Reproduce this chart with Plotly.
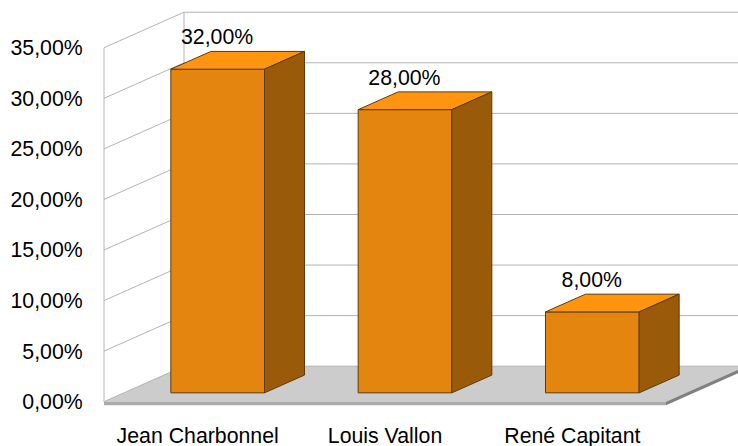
"""
Pseudo 3D bar chart: vote shares per candidate.
"""

import plotly.graph_objects as go

candidates = ["Jean Charbonnel", "Louis Vallon", "René Capitant"]
shares = [32, 28, 8]
y_ticks = [0, 5, 10, 15, 20, 25, 30, 35]
y_tick_labels = ["0,00%", "5,00%", "10,00%", "15,00%", "20,00%", "25,00%", "30,00%", "35,00%"]

# Oblique projection, in axis units (one category = 1, one percent = 1)
DEPTH_X = 80 / 187.33
DEPTH_Y = 35.5 / 10.114
BAR_WIDTH = 0.5
SLAB = 3.5 / 10.114

FRONT = "#E48510"
TOP = "#FF950E"
SIDE = "#995A09"
EDGE = "#5E3A07"
GRID = "#B3B3B3"

n = len(candidates)
y_max = y_ticks[-1]
slots = [i + 0.5 for i in range(n)]

fig = go.Figure()

# Front faces, standing a quarter of the way into the floor
fig.add_trace(go.Bar(
    x=[s + DEPTH_X * 0.25 for s in slots],
    y=shares,
    base=DEPTH_Y * 0.25,
    width=BAR_WIDTH,
    marker=dict(color=FRONT, line=dict(color=EDGE, width=1)),
    hoverinfo="skip",
))

# Top and side faces are half a floor deep
for s, v in zip(slots, shares):
    x0 = s + DEPTH_X * 0.25 - BAR_WIDTH / 2
    x1 = x0 + BAR_WIDTH
    y0 = DEPTH_Y * 0.25
    y1 = y0 + v
    dx = DEPTH_X * 0.5
    dy = DEPTH_Y * 0.5
    fig.add_trace(go.Scatter(
        x=[x0, x1, x1 + dx, x0 + dx, x0],
        y=[y1, y1, y1 + dy, y1 + dy, y1],
        mode="lines", fill="toself", fillcolor=TOP,
        line=dict(color=EDGE, width=1), hoverinfo="skip",
    ))
    fig.add_trace(go.Scatter(
        x=[x1, x1 + dx, x1 + dx, x1, x1],
        y=[y0, y0 + dy, y1 + dy, y1, y0],
        mode="lines", fill="toself", fillcolor=SIDE,
        line=dict(color=EDGE, width=1), hoverinfo="skip",
    ))

# Value labels above the front top edge
fig.add_trace(go.Scatter(
    x=[s + DEPTH_X * 0.25 - 0.003 for s in slots],
    y=[v + DEPTH_Y * 0.25 + 3.0 for v in shares],
    mode="text",
    text=[f"{v:.2f}%".replace(".", ",") for v in shares],
    textposition="middle center",
    textfont=dict(family="Liberation Sans", size=21.3, color="#000000"),
    hoverinfo="skip",
))

# Floor and its slab
shapes = [
    dict(type="path", layer="below", line=dict(width=0), fillcolor="#CCCCCC",
         path=f"M0,0 L{n},0 L{n + DEPTH_X},{DEPTH_Y} L{DEPTH_X},{DEPTH_Y} Z"),
    dict(type="rect", layer="below", line=dict(width=0), fillcolor="#ABABAB",
         x0=0, x1=n, y0=-SLAB, y1=0),
    dict(type="path", layer="below", line=dict(width=0), fillcolor="#808080",
         path=f"M{n},{-SLAB} L{n},0 L{n + DEPTH_X},{DEPTH_Y} L{n + DEPTH_X},{DEPTH_Y - SLAB} Z"),
]

# Wall grid: left wall diagonals plus back wall horizontals
for t in y_ticks:
    shapes.append(dict(type="line", layer="below", line=dict(color=GRID, width=1),
                       x0=0, y0=t, x1=DEPTH_X, y1=t + DEPTH_Y))
    shapes.append(dict(type="line", layer="below", line=dict(color=GRID, width=1),
                       x0=DEPTH_X, y0=t + DEPTH_Y, x1=n + DEPTH_X, y1=t + DEPTH_Y))
for x in (0, DEPTH_X):
    y0 = 0 if x == 0 else DEPTH_Y
    shapes.append(dict(type="line", layer="below", line=dict(color=GRID, width=1),
                       x0=x, y0=y0, x1=x, y1=y0 + y_max))

fig.update_layout(
    width=738,
    height=446,
    showlegend=False,
    paper_bgcolor="white",
    plot_bgcolor="white",
    margin=dict(l=100, r=0, t=0, b=40, pad=0),
    font=dict(family="Liberation Sans", size=21.3, color="#000000"),
    shapes=shapes,
    xaxis=dict(
        automargin=False,
        range=[-4 / 187.33, 634 / 187.33],
        tickmode="array",
        tickvals=slots,
        ticktext=candidates,
        ticks="outside",
        ticklen=10,
        tickcolor="rgba(0,0,0,0)",
        showgrid=False,
        zeroline=False,
        showline=False,
    ),
    yaxis=dict(
        automargin=False,
        range=[-4.3 / 10.114, 401.7 / 10.114],
        tickmode="array",
        tickvals=y_ticks,
        ticktext=y_tick_labels,
        ticks="outside",
        ticklen=12,
        tickcolor="rgba(0,0,0,0)",
        showgrid=False,
        zeroline=False,
        showline=False,
    ),
)

fig.write_html("out.html", config=dict(displayModeBar=False),
               post_script="document.body.style.margin = '0';")
